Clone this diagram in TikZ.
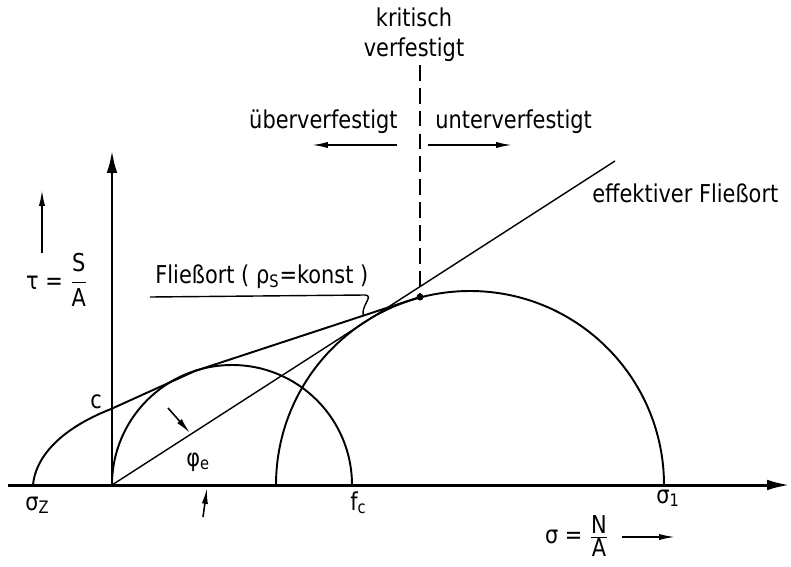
\documentclass[tikz,border=0pt]{standalone}
\usepackage{fontspec}
\setmainfont{DejaVu Sans}[FakeStretch=0.85]
\usetikzlibrary{arrows.meta}
\begin{document}
\begin{tikzpicture}[x=0.02cm,y=0.02cm]
    \tikzset{
        lbl/.style={font=\fontsize{14}{17}\selectfont, inner sep=0pt},
        axis/.style={line width=1.7pt, -{Latex[length=13pt,width=6pt]}},
        curve/.style={line width=1.1pt},
        thinline/.style={line width=0.8pt},
        pointer/.style={line width=0.9pt, -{Latex[length=9pt,width=3.5pt]}},
        crit/.style={line width=0.9pt, dash pattern=on 9pt off 4pt}
    }
    \useasboundingbox (0,0) rectangle (791,566);

    % axes
    \coordinate (l) at (8,81);
    \coordinate (r) at (790,81);
    \coordinate (O) at (112,81);
    \coordinate (top) at (112,416);
    \draw[axis] (l) -- (r);
    \draw[axis] (O) -- (top);

    % Mohr circles
    \coordinate (fc) at (352,81);
    \coordinate (s3) at (276,81);
    \coordinate (s1) at (664,81);
    \draw[curve] (O) arc[start angle=180, end angle=0, radius=120];
    \draw[curve] (s3) arc[start angle=180, end angle=0, radius=194];

    % effective yield line
    \coordinate (eff) at (615,405);
    \draw[thinline] (O) -- (eff);

    % yield locus, constant density
    \coordinate (sz) at (33,81);
    \coordinate (c) at (111,157);
    \coordinate (t1) at (195,195);
    \coordinate (dot) at (420,269);
    \draw[curve] (sz) .. controls (35,105) and (55,135) .. (c) -- (t1) -- (dot);
    \fill (dot) circle (3.5);

    % critical state
    \coordinate (kt) at (420,501);
    \draw[crit] (kt) -- (dot);

    % labels
    \node[lbl, align=center] (krit) at (414,531) {kritisch\\verfestigt};
    \node[lbl, anchor=base east] (ueber) at (398,438) {überverfestigt};
    \node[lbl, anchor=base west] (unter) at (435,438) {unterverfestigt};
    \node[lbl, anchor=base west] (effl) at (592,364) {effektiver Fließort};
    \node[lbl, anchor=base west] (flo) at (155,283) {Fließort ( ρ\textsubscript{S}=konst )};
    \node[lbl, anchor=base west] (cl) at (90,158) {c};
    \node[lbl, anchor=base west] (szl) at (25,56) {σ\textsubscript{Z}};
    \node[lbl, anchor=base west] (fcl) at (350,56) {f\textsubscript{c}};
    \node[lbl, anchor=base west] (s1l) at (656,63) {σ\textsubscript{1}};
    \node[lbl, anchor=base west] (phil) at (186,100) {φ\textsubscript{e}};
    \node[lbl] (tau) at (57,286) {τ = $\displaystyle\frac{\mbox{S}}{\mbox{A}}$};
    \node[lbl] (sig) at (577,30) {σ = $\frac{\mbox{N}}{\mbox{A}}$};

    % leader of the yield locus label
    \coordinate (u1) at (150,269);
    \coordinate (u2) at (365,271);
    \coordinate (u3) at (363,251);
    \draw[thinline] (u1) -- (u2) .. controls (374,270) and (362,262) .. (u3);

    % small arrows
    \coordinate (a1) at (397,421);  \coordinate (b1) at (312,421);
    \coordinate (a2) at (428,421);  \coordinate (b2) at (512,421);
    \coordinate (a3) at (42,313);   \coordinate (b3) at (42,376);
    \coordinate (a4) at (622,29);   \coordinate (b4) at (675,29);
    \coordinate (a5) at (203,49);   \coordinate (b5) at (207,78);
    \coordinate (a6) at (168,158);  \coordinate (b6) at (190,133);
    \foreach \x/\y in {a1/b1, a2/b2, a3/b3, a4/b4, a5/b5, a6/b6}{
        \draw[pointer] (\x) -- (\y);
    }
\end{tikzpicture}
\end{document}
